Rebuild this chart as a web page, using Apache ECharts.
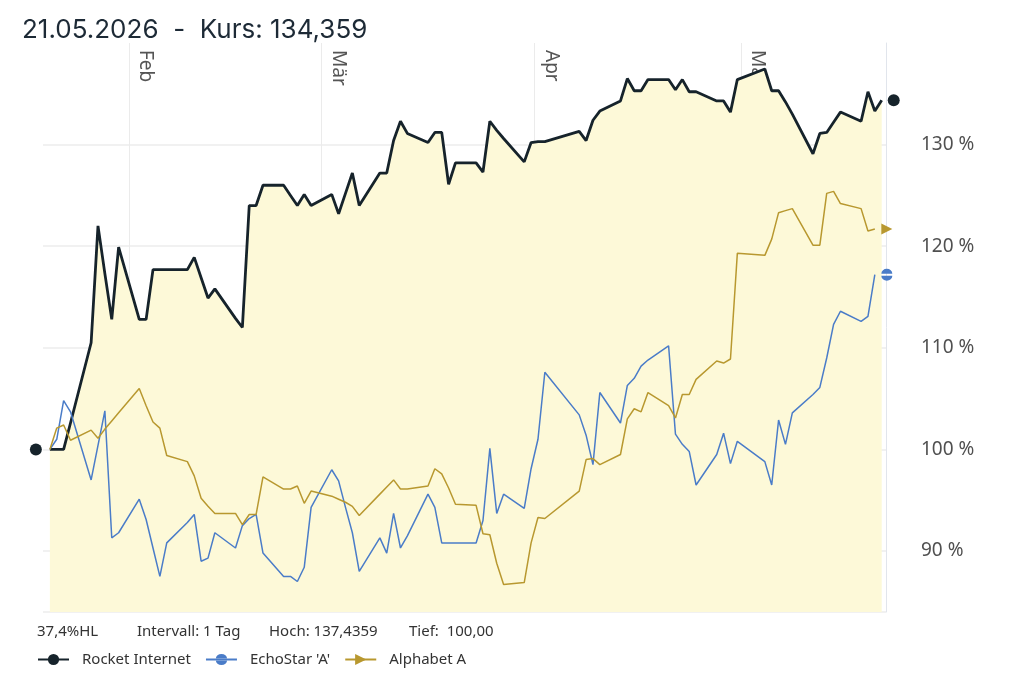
<!DOCTYPE html>
<html lang="de">
<head>
<meta charset="UTF-8">
<title>Rocket Internet - Vergleich</title>
<style>
  html, body { margin: 0; padding: 0; background: #fff; }
  #chart { width: 1023px; height: 683px; }
</style>
</head>
<body>
<div id="chart"></div>
<script src="https://cdn.jsdelivr.net/npm/echarts@6/dist/echarts.min.js"></script>
<script>
// Handelstage
var dates = [
  '2026-01-20','2026-01-21','2026-01-22','2026-01-23','2026-01-26','2026-01-27','2026-01-28','2026-01-29','2026-01-30',
  '2026-02-02','2026-02-03','2026-02-04','2026-02-05','2026-02-06','2026-02-09','2026-02-10','2026-02-11','2026-02-12','2026-02-13',
  '2026-02-16','2026-02-17','2026-02-18','2026-02-19','2026-02-20','2026-02-23','2026-02-24','2026-02-25','2026-02-26','2026-02-27',
  '2026-03-02','2026-03-03','2026-03-04','2026-03-05','2026-03-06','2026-03-09','2026-03-10','2026-03-11','2026-03-12','2026-03-13',
  '2026-03-16','2026-03-17','2026-03-18','2026-03-19','2026-03-20','2026-03-23','2026-03-24','2026-03-25','2026-03-26','2026-03-27',
  '2026-03-30','2026-03-31','2026-04-01','2026-04-02','2026-04-07','2026-04-08','2026-04-09','2026-04-10',
  '2026-04-13','2026-04-14','2026-04-15','2026-04-16','2026-04-17','2026-04-20','2026-04-21','2026-04-22','2026-04-23','2026-04-24',
  '2026-04-27','2026-04-28','2026-04-29','2026-04-30','2026-05-04','2026-05-05','2026-05-06','2026-05-07','2026-05-08',
  '2026-05-11','2026-05-12','2026-05-13','2026-05-14','2026-05-15','2026-05-18','2026-05-19','2026-05-20','2026-05-21'
];

// Werte in % (Start = 100)
var rocket = [
  100, 100, 100, 102.6, 110.5, 122.0, 117.3, 112.8, 119.9,
  112.8, 112.8, 117.7, 117.7, 117.7, 117.7, 118.9, 116.9, 114.9, 115.8,
  112.9, 112.0, 124.0, 124.0, 126.0, 126.0, 125.0, 124.0, 125.1, 124.0,
  125.1, 123.2, 125.2, 127.2, 124.0, 127.2, 127.2, 130.4, 132.3, 131.1,
  130.2, 131.2, 131.2, 126.1, 128.2, 128.2, 127.3, 132.3, 131.4, 130.6,
  128.3, 130.2, 130.3, 130.3, 131.3, 130.4, 132.4, 133.3,
  134.3, 136.5, 135.3, 135.3, 136.4, 136.4, 135.4, 136.4, 135.2, 135.2,
  134.3, 134.3, 133.2, 136.4, 137.44, 135.3, 135.3, 134.2, 133.0,
  129.1, 131.1, 131.2, 132.2, 133.2, 132.3, 135.2, 133.3, 134.36
];
var echostar = [
  100, 101.0, 104.8, 103.7, 97.0, 100.4, 103.8, 91.3, 91.8,
  95.1, 93.1, 90.3, 87.5, 90.8, 92.8, 93.6, 89.0, 89.3, 91.8,
  90.3, 92.5, 93.2, 93.6, 89.8, 87.5, 87.5, 87.0, 88.4, 94.3,
  98.0, 96.9, 94.3, 91.8, 88.0, 91.3, 89.8, 93.7, 90.3, 91.5,
  95.6, 94.3, 90.8, 90.8, 90.8, 90.8, 93.0, 100.1, 93.7, 95.6,
  94.2, 98.1, 101.0, 107.6, 103.4, 101.4, 98.5, 105.6,
  102.6, 106.3, 107.0, 108.2, 108.8, 110.2, 101.5, 100.5, 99.8, 96.5,
  99.5, 101.6, 98.6, 100.8, 98.8, 96.5, 102.9, 100.5, 103.6,
  105.4, 106.1, 109.0, 112.3, 113.6, 112.6, 113.1, 117.2, null
];
var alphabet = [
  100, 102.1, 102.4, 100.9, 101.9, 101.1, 102.0, 102.8, 103.6,
  106.0, 104.3, 102.7, 102.1, 99.4, 98.8, 97.4, 95.2, 94.4, 93.7,
  93.7, 92.6, 93.6, 93.6, 97.3, 96.1, 96.1, 96.4, 94.7, 95.9,
  95.4, 95.1, 94.8, 94.4, 93.5, 95.6, 96.3, 97.0, 96.1, 96.1,
  96.4, 98.1, 97.6, 96.2, 94.6, 94.5, 91.7, 91.6, 88.8, 86.7,
  86.9, 90.8, 93.3, 93.2, 95.9, 99.0, 99.1, 98.5,
  99.5, 103.0, 104.0, 103.7, 105.6, 104.3, 103.1, 105.4, 105.4, 106.9,
  108.7, 108.5, 108.9, 119.3, 119.1, 120.7, 123.3, 123.5, 123.7,
  120.1, 120.1, 125.2, 125.4, 124.2, 123.7, 121.5, 121.7, null
];

var monthNames = ['Jan', 'Feb', 'Mär', 'Apr', 'Mai', 'Jun', 'Jul', 'Aug', 'Sep', 'Okt', 'Nov', 'Dez'];
var infoTexts = ['37,4%HL', 'Intervall: 1 Tag', 'Hoch: 137,4359', 'Tief:  100,00'];

var FONT = '"Noto Sans", "Open Sans", sans-serif';
var cRocket = '#16232b', cEcho = '#4a7cc8', cAlpha = '#b8982f';
var echoSymbol = 'path://M0,5A5,5,0,0,1,10,5ZM0,7A5,5,0,0,0,10,7Z';

// Datenpunkte bauen, Symbole nur am Anfang/Ende
function buildData(values, startSym, endSym) {
  var out = [];
  for (var i = 0; i < values.length; i++) {
    if (values[i] == null) continue;
    out.push({ value: [dates[i] + 'T12:00:00', values[i]], symbol: 'none' });
  }
  if (startSym) Object.assign(out[0], startSym);
  if (endSym) Object.assign(out[out.length - 1], endSym);
  return out;
}

var chart = echarts.init(document.getElementById('chart'));

var option = {
  animation: false,
  backgroundColor: '#fff',
  title: {
    text: '21.05.2026  -  Kurs: 134,359',
    left: 22, top: 17, padding: 0,
    textStyle: { fontFamily: 'Inter, "Noto Sans", sans-serif', fontSize: 26, fontWeight: 'normal', color: '#1d2a36' }
  },
  grid: { left: 43, right: 137, top: 43, bottom: 71 },
  xAxis: {
    type: 'time',
    position: 'top',
    min: '2026-01-19T12:00:00',
    max: '2026-05-22T03:00:00',
    minInterval: 28 * 86400000,
    axisLine: { show: false },
    axisTick: { show: false },
    splitLine: { show: true, showMinLine: false, showMaxLine: false, lineStyle: { color: '#ebebeb', width: 1 } },
    axisLabel: {
      inside: true, rotate: 90, margin: 7,
      align: 'left', verticalAlign: 'bottom', padding: [0, 0, 7, 0],
      showMinLabel: false, showMaxLabel: false,
      fontFamily: FONT, fontSize: 19, color: '#555',
      formatter: function (v) { return monthNames[new Date(v).getMonth()]; }
    }
  },
  yAxis: {
    type: 'value',
    position: 'right',
    min: 84, max: 140,
    splitNumber: 5,
    axisLine: { show: true, lineStyle: { color: '#e1e5ec' } },
    axisTick: { show: false },
    splitLine: { show: true, showMaxLine: false, lineStyle: { color: '#ececec', width: 1.5 } },
    axisLabel: {
      margin: 35, showMinLabel: false, showMaxLabel: false,
      fontFamily: FONT, fontSize: 19, color: '#505050',
      formatter: function (v) { return v + ' %'; }
    }
  },
  legend: {
    left: 37, top: 652, padding: 0,
    itemWidth: 31, itemHeight: 14, itemGap: 14,
    textStyle: { fontFamily: FONT, fontSize: 15, color: '#333', padding: [0, 0, 0, 8] },
    data: ['Rocket Internet', "EchoStar 'A'", 'Alphabet A']
  },
  graphic: [
    { type: 'text', left: 37, top: 624, style: { text: infoTexts[0], fill: '#333', font: '15px ' + FONT } },
    { type: 'text', left: 137, top: 624, style: { text: infoTexts[1], fill: '#333', font: '15px ' + FONT } },
    { type: 'text', left: 269, top: 624, style: { text: infoTexts[2], fill: '#333', font: '15px ' + FONT } },
    { type: 'text', left: 409, top: 624, style: { text: infoTexts[3], fill: '#333', font: '15px ' + FONT } }
  ],
  series: [
    {
      name: 'Rocket Internet', type: 'line', silent: true,
      symbol: 'circle', symbolSize: 12,
      lineStyle: { color: cRocket, width: 2.8 },
      itemStyle: { color: cRocket },
      areaStyle: { color: '#fdf9d8', opacity: 1, origin: 'start' },
      data: buildData(rocket,
        { symbol: 'circle', symbolSize: 12, symbolOffset: [-14, 0] },
        { symbol: 'circle', symbolSize: 12, symbolOffset: [12, 0] })
    },
    {
      name: "EchoStar 'A'", type: 'line', silent: true,
      symbol: echoSymbol, symbolSize: [11, 12],
      lineStyle: { color: cEcho, width: 1.5 },
      itemStyle: { color: cEcho },
      data: buildData(echostar, null,
        { symbol: echoSymbol, symbolSize: [11, 12], symbolOffset: [12, 0] })
    },
    {
      name: 'Alphabet A', type: 'line', silent: true,
      symbol: 'triangle', symbolSize: 11, symbolRotate: -90,
      lineStyle: { color: cAlpha, width: 1.5 },
      itemStyle: { color: cAlpha },
      data: buildData(alphabet, null,
        { symbol: 'triangle', symbolSize: 11, symbolRotate: -90, symbolOffset: [12, 0] })
    }
  ]
};

chart.setOption(option);
window.addEventListener('resize', function () { chart.resize(); });
</script>
</body>
</html>
